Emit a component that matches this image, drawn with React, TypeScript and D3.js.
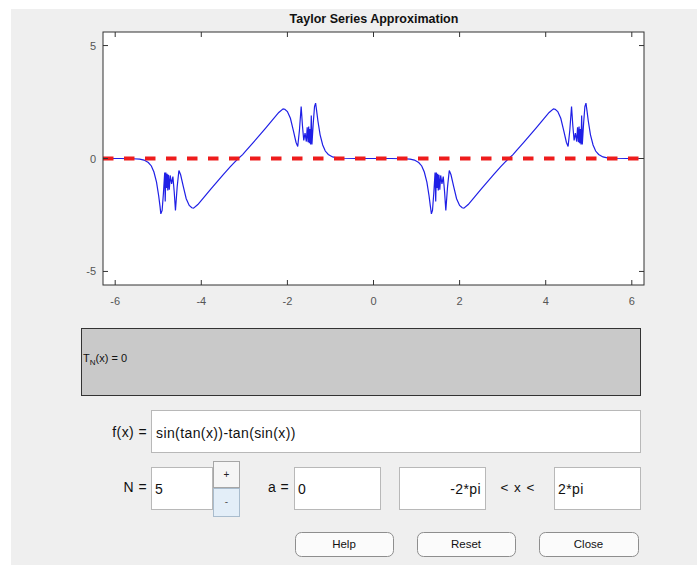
import React from "react";
import * as d3 from "d3";

// curve, x in radians
const curveX = [
  -6.28, -5.88, -5.58, -5.43, -5.33, -5.23, -5.16, -5.1, -5.04, -4.99, -4.96, -4.94, -4.91, -4.88, -4.85,
  -4.838, -4.823, -4.808, -4.793, -4.778, -4.763, -4.743, -4.723, -4.69, -4.66, -4.63, -4.6, -4.56, -4.52,
  -4.48, -4.42, -4.35, -4.28, -4.22, -4.18, -4.08, -3.93, -3.78, -3.63, -3.48, -3.33, -3.23, -3.14,
  -3.04, -2.95, -2.8, -2.65, -2.5, -2.35, -2.2, -2.1, -2.06, -2.0, -1.93, -1.86, -1.8, -1.76, -1.72,
  -1.68, -1.65, -1.62, -1.59, -1.56, -1.54, -1.52, -1.505, -1.49, -1.475, -1.46, -1.445, -1.43, -1.4,
  -1.37, -1.345, -1.32, -1.29, -1.24, -1.18, -1.12, -1.05, -0.95, -0.85, -0.7, -0.4,
  0, 0.4, 0.7, 0.85, 0.95, 1.05, 1.12, 1.18, 1.24, 1.29, 1.32, 1.345, 1.37, 1.4, 1.43, 1.445, 1.46,
  1.475, 1.49, 1.505, 1.52, 1.54, 1.56, 1.59, 1.62, 1.65, 1.68, 1.72, 1.76, 1.8, 1.86, 1.93, 2.0,
  2.06, 2.1, 2.2, 2.35, 2.5, 2.65, 2.8, 2.95, 3.05, 3.14,
  3.24, 3.33, 3.48, 3.63, 3.78, 3.93, 4.08, 4.18, 4.22, 4.28, 4.35, 4.42, 4.48, 4.52, 4.56, 4.6,
  4.63, 4.66, 4.69, 4.72, 4.74, 4.76, 4.775, 4.79, 4.805, 4.82, 4.835, 4.85, 4.88, 4.91, 4.935,
  4.96, 4.99, 5.04, 5.1, 5.16, 5.23, 5.33, 5.43, 5.58, 5.88, 6.283,
];
const curveY = [
  0, 0, -0.01, -0.03, -0.07, -0.18, -0.33, -0.6, -1.05, -1.65, -2.1, -2.45, -2.3, -1.55, -0.62,
  -1.9, -0.62, -1.3, -0.68, -1.42, -0.72, -1.38, -0.75, -1.12, -0.8, -1.45, -2.3, -1.25, -0.53,
  -0.72, -1.22, -1.78, -2.08, -2.18, -2.2, -2.04, -1.7, -1.36, -1.02, -0.69, -0.37, -0.17, 0,
  0.17, 0.37, 0.69, 1.02, 1.36, 1.7, 2.04, 2.2, 2.18, 2.08, 1.78, 1.22, 0.72, 0.53, 1.25,
  2.3, 1.45, 0.8, 1.12, 0.75, 1.38, 0.72, 1.42, 0.68, 1.3, 0.62, 1.9, 0.62, 1.55,
  2.3, 2.45, 2.1, 1.65, 1.05, 0.6, 0.33, 0.18, 0.07, 0.03, 0.01, 0,
  0, 0, -0.01, -0.03, -0.07, -0.18, -0.33, -0.6, -1.05, -1.65, -2.1, -2.45, -2.3, -1.55, -0.62, -1.9, -0.62,
  -1.3, -0.68, -1.42, -0.72, -1.38, -0.75, -1.12, -0.8, -1.45, -2.3, -1.25, -0.53, -0.72, -1.22, -1.78, -2.08,
  -2.18, -2.2, -2.04, -1.7, -1.36, -1.02, -0.69, -0.37, -0.17, 0,
  0.17, 0.37, 0.69, 1.02, 1.36, 1.7, 2.04, 2.2, 2.18, 2.08, 1.78, 1.22, 0.72, 0.53, 1.25, 2.3,
  1.45, 0.8, 1.12, 0.75, 1.38, 0.72, 1.42, 0.68, 1.3, 0.62, 1.9, 0.62, 1.55, 2.3, 2.45,
  2.1, 1.65, 1.05, 0.6, 0.33, 0.18, 0.07, 0.03, 0.01, 0, 0,
];
// Taylor polynomial T_N(x) = 0
const taylorY = 0;

const xTicks = [-6, -4, -2, 0, 2, 4, 6];
const yTicks = [-5, 0, 5];

const font = "'Liberation Sans', Arial, Helvetica, sans-serif";

export default function App() {
  const W = 697;
  const H = 565;
  const plot = { left: 103, right: 644, top: 32, bottom: 285 };

  const x = d3.scaleLinear().domain([-2 * Math.PI, 2 * Math.PI]).range([plot.left, plot.right]);
  const y = d3.scaleLinear().domain([-5.6, 5.6]).range([plot.bottom, plot.top]);

  const pts: [number, number][] = curveX.map((v, i) => [v, curveY[i]]);
  const line = d3
    .line<[number, number]>()
    .x((d) => x(d[0]))
    .y((d) => y(d[1]));

  const tk = 5;
  const fs = 14;
  const ls = 0.4;

  return (
    <svg
      width={W}
      height={H}
      style={{ position: "absolute", left: 0, top: 0, fontFamily: font }}
    >
      <rect x={0} y={0} width={W} height={H} fill="#ffffff" />
      <rect x={11} y={9} width={W - 11} height={H - 9} fill="#efefef" />

      {/* axes */}
      <rect
        x={plot.left}
        y={plot.top}
        width={plot.right - plot.left}
        height={plot.bottom - plot.top}
        fill="#ffffff"
      />
      <text x={374} y={23} textAnchor="middle" fontSize={12.5} fontWeight="bold" fill="#111">
        Taylor Series Approximation
      </text>

      <path d={line(pts) || ""} fill="none" stroke="#1f1fe6" strokeWidth={1.2} />
      <line
        x1={plot.left}
        x2={plot.right}
        y1={y(taylorY)}
        y2={y(taylorY)}
        stroke="#ee1c1c"
        strokeWidth={4}
        strokeDasharray="10.5,10.5"
      />

      {xTicks.map((t) => (
        <g key={"x" + t}>
          <line x1={x(t)} x2={x(t)} y1={plot.bottom} y2={plot.bottom - tk} stroke="#333" />
          <line x1={x(t)} x2={x(t)} y1={plot.top} y2={plot.top + tk} stroke="#333" />
          <text x={x(t)} y={305} textAnchor="middle" fontSize={11} fill="#555">
            {t}
          </text>
        </g>
      ))}
      {yTicks.map((t) => (
        <g key={"y" + t}>
          <line x1={plot.left} x2={plot.left + tk} y1={y(t)} y2={y(t)} stroke="#333" />
          <line x1={plot.right} x2={plot.right - tk} y1={y(t)} y2={y(t)} stroke="#333" />
          <text x={plot.left - 7} y={y(t) + 4} textAnchor="end" fontSize={11} fill="#555">
            {t}
          </text>
        </g>
      ))}
      <rect
        x={plot.left}
        y={plot.top}
        width={plot.right - plot.left}
        height={plot.bottom - plot.top}
        fill="none"
        stroke="#333"
        strokeWidth={1}
      />

      {/* polynomial display */}
      <rect x={81.5} y={328.5} width={559} height={67} fill="#c9c9c9" stroke="#333" />
      <text x={83} y={362} fontSize={11} fill="#111">
        T<tspan dy={3} fontSize={8}>N</tspan>
        <tspan dy={-3}>(x) = 0</tspan>
      </text>

      {/* f(x) */}
      <text x={147} y={437} textAnchor="end" fontSize={fs} letterSpacing={ls} fill="#111">
        f(x) =
      </text>
      <rect x={151.5} y={410.5} width={489} height={42} fill="#fff" stroke="#b8b8b8" />
      <text x={156} y={438} fontSize={fs} letterSpacing={ls} fill="#111">
        sin(tan(x))-tan(sin(x))
      </text>

      {/* N */}
      <text x={147} y={492} textAnchor="end" fontSize={fs} letterSpacing={ls} fill="#111">
        N =
      </text>
      <rect x={151.5} y={467.5} width={61} height={42} fill="#fff" stroke="#b8b8b8" />
      <text x={155} y={494} fontSize={fs} fill="#111">
        5
      </text>
      <rect x={213.5} y={461.5} width={26} height={26} fill="#f5f5f5" stroke="#a6a6a6" />
      <text x={226.5} y={478} textAnchor="middle" fontSize={10} fill="#222">
        +
      </text>
      <rect x={213.5} y={488.5} width={26} height={28} fill="#e3eef8" stroke="#a9bccd" />
      <text x={226.5} y={505} textAnchor="middle" fontSize={10} fill="#555">
        -
      </text>

      {/* a */}
      <text x={289} y={492} textAnchor="end" fontSize={fs} letterSpacing={ls} fill="#111">
        a =
      </text>
      <rect x={294.5} y={467.5} width={86} height={42} fill="#fff" stroke="#b8b8b8" />
      <text x={298} y={494} fontSize={fs} fill="#111">
        0
      </text>

      {/* range */}
      <rect x={399.5} y={467.5} width={86} height={42} fill="#fff" stroke="#b8b8b8" />
      <text x={481} y={494} textAnchor="end" fontSize={fs} letterSpacing={ls} fill="#111">
        -2*pi
      </text>
      <text x={518} y={492} textAnchor="middle" fontSize={13.5} letterSpacing={1} fill="#111">
        {"< x <"}
      </text>
      <rect x={554.5} y={467.5} width={86} height={42} fill="#fff" stroke="#b8b8b8" />
      <text x={558} y={494} fontSize={fs} letterSpacing={ls} fill="#111">
        2*pi
      </text>

      {/* buttons */}
      {[
        { label: "Help", x0: 295, x1: 393 },
        { label: "Reset", x0: 417, x1: 515 },
        { label: "Close", x0: 539, x1: 638 },
      ].map((b) => (
        <g key={b.label}>
          <rect
            x={b.x0 + 0.5}
            y={532.5}
            width={b.x1 - b.x0}
            height={24}
            rx={6}
            fill="#fbfbfb"
            stroke="#8e8e8e"
          />
          <text x={(b.x0 + b.x1) / 2} y={548} textAnchor="middle" fontSize={11.5} fill="#111">
            {b.label}
          </text>
        </g>
      ))}
    </svg>
  );
}
